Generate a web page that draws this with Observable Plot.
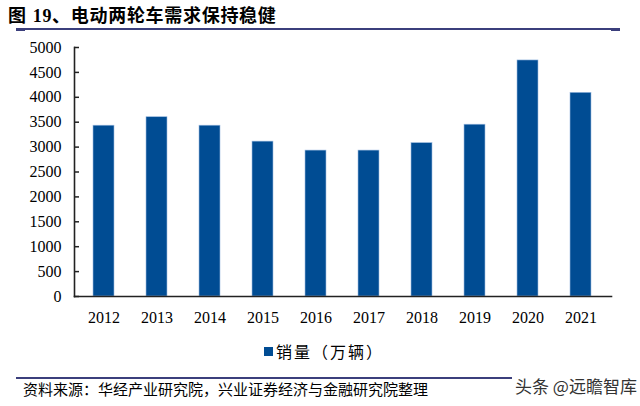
<!DOCTYPE html>
<html>
<head>
<meta charset="utf-8">
<script src="https://cdn.jsdelivr.net/npm/d3@7"></script>
<script src="https://cdn.jsdelivr.net/npm/@observablehq/plot@0.6"></script>
<style>
  html, body { margin: 0; padding: 0; background: #fff; }
  #wrap { position: relative; width: 640px; height: 406px; overflow: hidden; }
  #title { position: absolute; left: 8px; top: 1px; font: bold 18px "Noto Sans CJK SC", sans-serif; color: #000; white-space: nowrap; letter-spacing: 0.7px; }
  #title .num { font-family: "Liberation Serif", serif; font-size: 18px; margin-left: 6px; }
  .hline { position: absolute; height: 2px; background: #3b3f7c; }
  .hcap { position: absolute; height: 3px; background: #3b3f7c; }
  #chart { position: absolute; left: 0; top: 0; }
  #legend { position: absolute; left: 264px; top: 339px; font: 16px "Noto Sans CJK SC", sans-serif; color: #000; white-space: nowrap; display: flex; align-items: center; letter-spacing: 2px; }
  #legend .sw { display: inline-block; width: 9px; height: 9px; background: #004c93; margin-right: 3px; }
  #source { position: absolute; left: 23px; top: 378px; font: 15px "Noto Sans CJK SC", sans-serif; color: #000; white-space: nowrap; }
  #wm { position: absolute; left: 512px; top: 373px; font: 17px "Noto Sans CJK SC", sans-serif; color: #333; background: #fff; padding: 0 3px; white-space: nowrap; }
</style>
</head>
<body>
<div id="wrap">
  <div id="title">图<span class="num">19</span>、电动两轮车需求保持稳健</div>
  <div class="hline" style="left:16px; top:28px; width:604px;"></div>
  <div class="hcap" style="left:16px; top:28px; width:9px;"></div>
  <div class="hcap" style="left:611px; top:28px; width:9px;"></div>
  <div id="chart"></div>
  <div id="legend"><span class="sw"></span><span>销量（万辆）</span></div>
  <div class="hline" style="left:16px; top:377px; width:604px;"></div>
  <div id="source">资料来源：华经产业研究院，兴业证券经济与金融研究院整理</div>
  <div id="wm">头条 @远瞻智库</div>
</div>
<script>
const years = ["2012","2013","2014","2015","2016","2017","2018","2019","2020","2021"];
const sales = [3430, 3600, 3430, 3110, 2930, 2930, 3080, 3450, 4740, 4090];
const yTicks = [0,500,1000,1500,2000,2500,3000,3500,4000,4500,5000];

const data = years.map((y, i) => ({year: y, value: sales[i]}));

const chart = Plot.plot({
  width: 640,
  height: 330,
  marginLeft: 74,
  marginRight: 29,
  marginTop: 47,
  marginBottom: 34,
  style: {fontFamily: "'Liberation Serif', serif", fontSize: "16px", color: "#000", background: "transparent"},
  x: {domain: years, paddingInner: 0.6, paddingOuter: 0.3, label: null},
  y: {domain: [0, 5000], label: null},
  marks: [
    Plot.barY(data, {x: "year", y: "value", fill: "#004c93", stroke: "#9dbbe0", strokeWidth: 0.6}),
    Plot.axisY({ticks: yTicks, tickSize: 0, tickPadding: 13, fontSize: 16, tickFormat: d3.format("d"), label: null}),
    Plot.axisY({ticks: yTicks, tickSize: -5, tickFormat: () => "", stroke: "#222", strokeWidth: 1.5, label: null}),
    Plot.axisX({tickSize: 0, tickPadding: 15, fontSize: 16, label: null}),
    Plot.frame({anchor: "left", stroke: "#222", strokeWidth: 1.6}),
    Plot.frame({anchor: "bottom", stroke: "#222", strokeWidth: 1.6})
  ]
});
document.getElementById("chart").appendChild(chart);
</script>
</body>
</html>
